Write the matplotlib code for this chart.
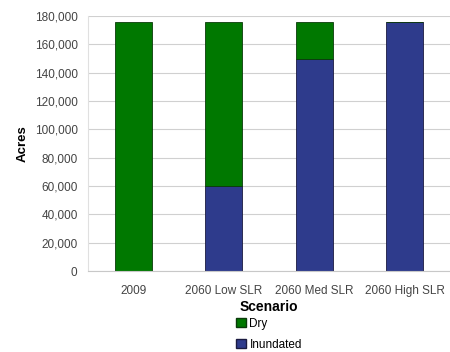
import matplotlib.pyplot as plt
from matplotlib.patches import Patch

plt.rcParams['font.family'] = ['Liberation Sans', 'DejaVu Sans']

# data
scenarios = ['2009', '2060 Low SLR', '2060 Med SLR', '2060 High SLR']
inundated = [0, 60000, 150000, 175500]
dry = [175800, 115800, 25800, 300]

green = '#007800'
blue = '#2E3B8C'

fig = plt.figure(figsize=(4.5, 3.52), dpi=100)
ax = fig.add_axes([0.1956, 0.2301, 0.8044, 0.7244])

x = range(len(scenarios))
ax.bar(x, inundated, width=0.41, color=blue, edgecolor='#1a1a40', linewidth=0.6)
ax.bar(x, dry, width=0.41, bottom=inundated, color=green, edgecolor='#0a3a0a', linewidth=0.6)

ax.set_xlim(-0.5, 3.5)
ax.set_ylim(0, 180000)
ax.set_yticks(range(0, 180001, 20000))
ax.set_yticklabels(['{:,}'.format(v) for v in range(0, 180001, 20000)])
ax.set_xticks(list(x))
ax.set_xticklabels(scenarios)
ax.tick_params(labelsize=8.5, colors='#444444', length=0)
ax.tick_params(axis='y', pad=7.5)
ax.tick_params(axis='x', pad=10)
ax.grid(axis='y', color='#d0d0d0', linewidth=0.8)
ax.set_axisbelow(True)
for s in ['top', 'right']:
    ax.spines[s].set_visible(False)
ax.spines['left'].set_color('#e0e0e0')
ax.spines['bottom'].set_color('#c8c8c8')

ax.set_ylabel('Acres', fontsize=9.5, fontweight='bold', labelpad=4)
ax.set_xlabel('Scenario', fontsize=10, fontweight='bold', labelpad=2)

handles = [Patch(facecolor=green, edgecolor='#0a3a0a'),
           Patch(facecolor=blue, edgecolor='#1a1a40')]
fig.legend(handles, ['Dry', 'Inundated'], loc='upper left',
           bbox_to_anchor=(0.515, 0.11), frameon=False,
           fontsize=8.5, handlelength=0.8, handleheight=0.8, handletextpad=0.3,
           labelspacing=0.75, borderaxespad=0)

fig.savefig('out.png', dpi=100)
